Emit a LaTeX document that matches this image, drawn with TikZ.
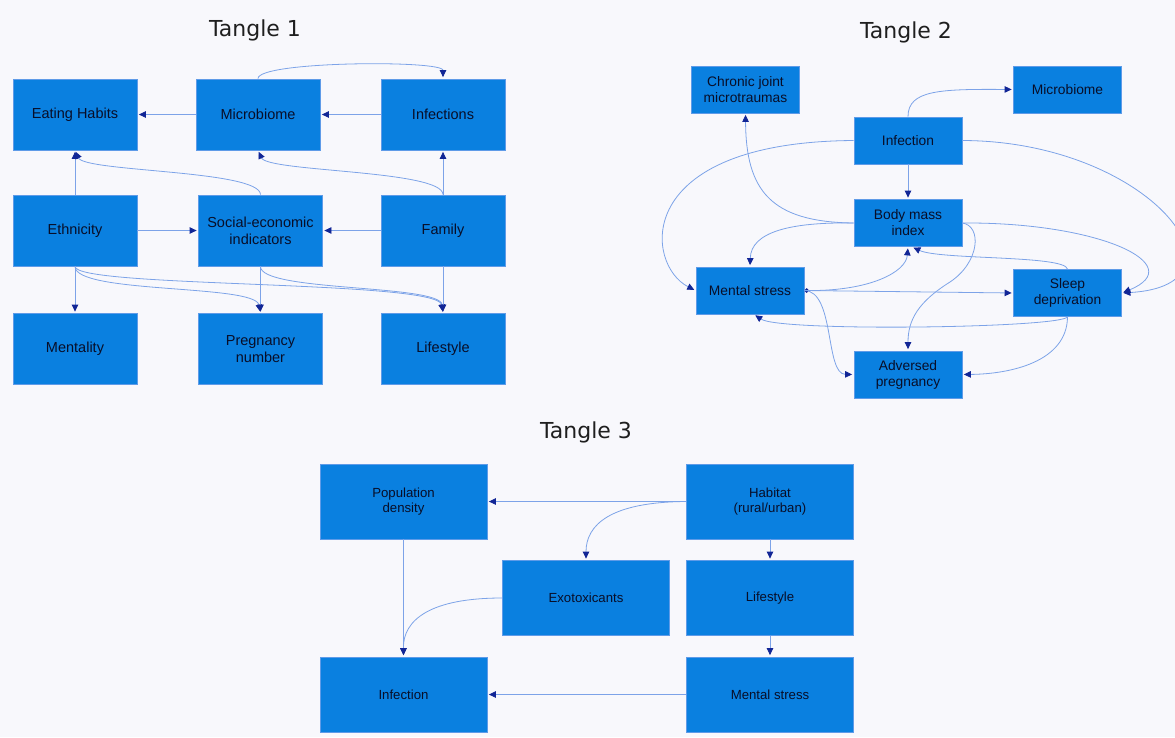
\documentclass[tikz,border=0pt]{standalone}
\usepackage{fontspec}
\setmainfont{Liberation Sans}
\newfontfamily\titlefont{DejaVu Sans}
\usetikzlibrary{arrows.meta}
\definecolor{bgcol}{RGB}{248,248,252}
\definecolor{boxfill}{RGB}{10,128,224}
\definecolor{boxborder}{RGB}{95,155,232}
\definecolor{boxtext}{RGB}{8,14,40}
\definecolor{edgecol}{RGB}{125,163,232}
\definecolor{arrowcol}{RGB}{18,38,150}
\begin{document}
\begin{tikzpicture}[x=1pt,y=-1pt,
  box/.style={draw=boxborder, fill=boxfill, line width=0.8pt, text=boxtext,
    align=center, inner sep=0pt},
  boxA/.style={box, minimum width=124pt, minimum height=71pt, font=\fontsize{14.5}{17}\selectfont},
  boxB/.style={box, minimum width=108pt, minimum height=47pt, font=\fontsize{13.8}{16}\selectfont},
  boxC/.style={box, minimum width=167pt, minimum height=75pt, font=\fontsize{13.2}{15.5}\selectfont},
  ttl/.style={font=\titlefont\fontsize{22}{26}\selectfont, text=black!88},
  link/.style={draw=edgecol, line width=0.8pt, shorten >=1.5pt,
    -{Triangle[length=7pt,width=6.5pt,color=arrowcol]}},
  dotlink/.style={link, {Circle[length=4.5pt,color=arrowcol]}-{Triangle[length=7pt,width=6.5pt,color=arrowcol]}}
]
\useasboundingbox (0,0) rectangle (1175,737);
\fill[bgcol] (0,0) rectangle (1175,737);

% Titles
\node[ttl] (t1) at (255,30) {Tangle 1};
\node[ttl] (t2) at (906,32) {Tangle 2};
\node[ttl] (t3) at (586,432) {Tangle 3};

% ---------------- Tangle 1
\node[boxA] (eat) at (75,114.5) {Eating Habits};
\node[boxA] (mic) at (258,114.5) {Microbiome};
\node[boxA] (inf) at (443,114.5) {Infections};
\node[boxA] (eth) at (75,230.5) {Ethnicity};
\node[boxA] (soc) at (260.5,230.5) {Social-economic\\indicators};
\node[boxA] (fam) at (443,230.5) {Family};
\node[boxA] (men) at (75,349) {Mentality};
\node[boxA] (pre) at (260.5,349) {Pregnancy\\number};
\node[boxA] (lif) at (443,349) {Lifestyle};

\draw[link] (mic.west) -- (eat.east);
\draw[link] (inf.west) -- (mic.east);
\draw[link] (mic.north) .. controls (258,61) and (443,60) .. (inf.north);
\draw[link] (eth.north) -- (eat.south);
\draw[link] (soc.north) .. controls (260,170) and (85,172) .. (eat.south);
\draw[link] (fam.north) .. controls (443,170) and (268,172) .. (mic.south);
\draw[link] (fam.north) -- (inf.south);
\draw[link] (eth.east) -- (soc.west);
\draw[link] (fam.west) -- (soc.east);
\draw[link] (eth.south) -- (men.north);
\draw[link] (eth.south) .. controls (75,294) and (255,284) .. (pre.north);
\draw[link] (eth.south) .. controls (75,288) and (438,280) .. (lif.north);
\draw[link] (soc.south) .. controls (260,292) and (440,284) .. (lif.north);
\draw[link] (soc.south) -- (pre.north);
\draw[link] (fam.south) -- (lif.north);

% ---------------- Tangle 2
\node[boxB] (cjm) at (745.5,89.5) {Chronic joint\\microtraumas};
\node[boxB] (mic2) at (1067.5,89.5) {Microbiome};
\node[boxB] (inf2) at (908,140.5) {Infection};
\node[boxB] (bmi) at (908,223) {Body mass\\index};
\node[boxB] (ms) at (750,290.5) {Mental stress};
\node[boxB] (sd) at (1067.5,293) {Sleep\\deprivation};
\node[boxB] (ap) at (908,374.5) {Adversed\\pregnancy};

\coordinate (bmimid) at (950,282);
\draw[link] (inf2.north) .. controls (908,90) and (940,89) .. (mic2.west);
\draw[link] (bmi.west) .. controls (770,222) and (746,190) .. (cjm.south);
\draw[link] (inf2.west) .. controls (630,142) and (645,265) .. (ms.west);
\draw[link] (inf2.east) .. controls (1150,141) and (1260,285) .. (sd.east);
\draw[link] (inf2.south) -- (bmi.north);
\draw[link] (bmi.west) .. controls (790,222) and (751,232) .. (ms.north);
\draw[link] (bmi.east) .. controls (1100,222) and (1190,265) .. (sd.east);
\draw[draw=edgecol, line width=0.8pt] (bmi.east) .. controls (982,226) and (980,262) .. (bmimid);
\draw[link] (bmimid) .. controls (918,302) and (908,320) .. (ap.north);
\draw[dotlink] (ms.east) .. controls (870,291) and (906,272) .. (bmi.south);
\draw[link] (ms.east) -- (sd.west);
\draw[link] (ms.east) .. controls (835,291) and (825,374) .. (ap.west);
\draw[link] (sd.north) .. controls (1065,255) and (940,260) .. ([xshift=4pt]bmi.south);
\draw[link] (sd.south) .. controls (1060,328) and (780,332) .. ([xshift=4pt]ms.south);
\draw[link] (sd.south) .. controls (1067,362) and (1010,374) .. (ap.east);

% ---------------- Tangle 3
\node[boxC] (pd) at (403.5,501.5) {Population\\density};
\node[boxC] (hab) at (770,501.5) {Habitat\\(rural/urban)};
\node[boxC] (exo) at (586,598) {Exotoxicants};
\node[boxC] (lif3) at (770,598) {Lifestyle};
\node[boxC] (inf3) at (403.5,694.5) {Infection};
\node[boxC] (ms3) at (770,694.5) {Mental stress};

\draw[link] (hab.west) -- (pd.east);
\draw[link] (hab.west) .. controls (610,502) and (586,525) .. (exo.north);
\draw[link] (hab.south) -- (lif3.north);
\draw[link] (lif3.south) -- (ms3.north);
\draw[link] (ms3.west) -- (inf3.east);
\draw[link] (pd.south) -- (inf3.north);
\draw[link] (exo.west) .. controls (430,598) and (403,620) .. (inf3.north);
\end{tikzpicture}
\end{document}
